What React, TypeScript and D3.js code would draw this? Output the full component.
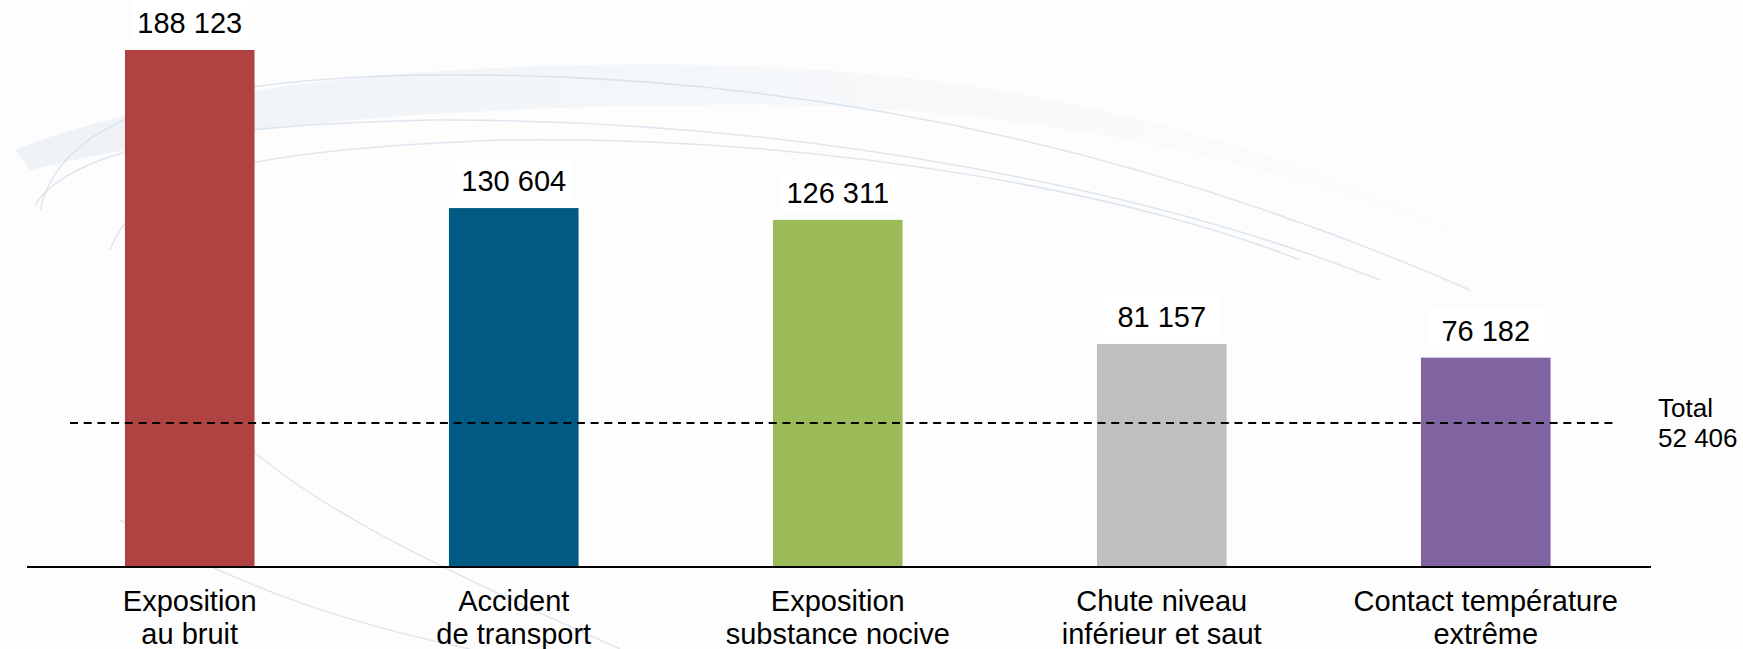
import React from "react";
import * as d3 from "d3";

const categories: string[][] = [
  ["Exposition", "au bruit"],
  ["Accident", "de transport"],
  ["Exposition", "substance nocive"],
  ["Chute niveau", "inférieur et saut"],
  ["Contact température", "extrême"],
];
const values: number[] = [188123, 130604, 126311, 81157, 76182];
const colors: string[] = ["#B04241", "#005A84", "#9BBB59", "#BFBFBF", "#8064A2"];
const totalLabel: string[] = ["Total", "52 406"];
const totalValue = 52406;

const W = 1743;
const H = 649;
const FONT = "'Liberation Sans', Arial, sans-serif";

const fmt = (v: number) => d3.format(",")(v).replace(/,/g, " ");

export default function App() {
  const keys = categories.map((c) => c.join(" "));
  const x = d3.scaleBand<string>().domain(keys).range([24.5, 1651]).paddingInner(0.6).paddingOuter(0.31);
  const y = d3.scaleLinear().domain([0, 188123]).range([567, 50]);
  const bw = x.bandwidth();

  const swoosh = [
    "M 40 210 C 60 120, 180 80, 420 75 C 800 70, 1150 150, 1470 290",
    "M 35 205 C 70 150, 200 125, 430 120 C 800 118, 1150 190, 1380 280",
    "M 110 250 C 140 170, 260 150, 500 140 C 850 135, 1150 200, 1300 260",
    "M 230 430 C 300 500, 420 560, 620 649",
    "M 120 520 C 260 600, 380 630, 470 649",
  ];

  return (
    <svg
      width={W}
      height={H}
      style={{ position: "fixed", left: 0, top: 0, display: "block", background: "#fdfdfd" }}
    >
      <defs>
        <linearGradient id="band" x1="0" x2="1" y1="0" y2="0">
          <stop offset="0" stopColor="#dfe8f0" stopOpacity="0.9" />
          <stop offset="0.6" stopColor="#e8eef4" stopOpacity="0.6" />
          <stop offset="1" stopColor="#f2f5f8" stopOpacity="0.2" />
        </linearGradient>
      </defs>
      <g>
        <path
          d="M 15 150 C 150 95, 400 60, 700 65 C 1000 70, 1250 130, 1500 250 C 1250 150, 1000 100, 700 105 C 400 108, 200 130, 30 170 Z"
          fill="url(#band)"
          opacity={0.55}
        />
        {swoosh.map((d, i) => (
          <path key={i} d={d} fill="none" stroke="#c3d3e2" strokeWidth={1.5} opacity={0.55} />
        ))}
      </g>

      {values.map((v, i) => {
        const cx = (x(keys[i]) as number) + bw / 2;
        const top = y(v);
        return (
          <g key={keys[i]}>
            <rect x={x(keys[i])} y={top} width={bw} height={y(0) - top} fill={colors[i]} />
            <rect x={cx - 59} y={top - 50} width={118} height={42} fill="#ffffff" />
            <text
              x={cx}
              y={top - 17}
              textAnchor="middle"
              fontFamily={FONT}
              fontSize={29}
              fill="#000"
            >
              {fmt(v)}
            </text>
            {categories[i].map((line, j) => (
              <text
                key={j}
                x={cx}
                y={611 + j * 32.5}
                textAnchor="middle"
                fontFamily={FONT}
                fontSize={29}
                fill="#000"
              >
                {line}
              </text>
            ))}
          </g>
        );
      })}

      <line x1={27} x2={1651} y1={567} y2={567} stroke="#000" strokeWidth={2} />
      <line
        x1={70}
        x2={1614}
        y1={y(totalValue)}
        y2={y(totalValue)}
        stroke="#000"
        strokeWidth={2}
        strokeDasharray="8 5.7"
      />
      {totalLabel.map((t, j) => (
        <text key={j} x={1658} y={417 + j * 29.5} fontFamily={FONT} fontSize={26} fill="#000">
          {t}
        </text>
      ))}
    </svg>
  );
}
